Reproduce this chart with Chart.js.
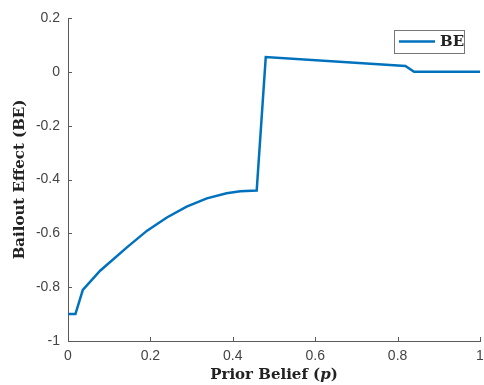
<!DOCTYPE html>
<html>
<head>
<meta charset="utf-8">
<script src="https://cdn.jsdelivr.net/npm/chart.js@4.4.1/dist/chart.umd.min.js"></script>
<style>
  html, body { margin: 0; padding: 0; background: #fff; }
  #c { display: block; }
</style>
</head>
<body>
<canvas id="c" width="484" height="385"></canvas>
<script>
// ---- data ----
const seriesLabel = 'BE';
const priorBelief = [0, 0.018, 0.036, 0.078, 0.143, 0.192, 0.24, 0.288, 0.337, 0.385, 0.418, 0.458, 0.480, 0.819, 0.84, 1.0];
const bailoutEffect = [-0.9, -0.9, -0.81, -0.739, -0.652, -0.59, -0.541, -0.501, -0.47, -0.451, -0.444, -0.441, 0.055, 0.022, 0, 0];
const xTickValues = [0, 0.2, 0.4, 0.6, 0.8, 1];
const yTickValues = [-1, -0.8, -0.6, -0.4, -0.2, 0, 0.2];
const xTitleParts = ['Prior Belief (', 'p', ')'];
const yTitle = 'Bailout Effect (BE)';

const lineColor = '#0072BD';
const axisColor = '#5a5a5a';
const tickColor = '#444';
const serifBold = 'bold 15px "DejaVu Serif"';

const points = priorBelief.map((x, i) => ({ x: x, y: bailoutEffect[i] }));

const fmt = v => String(Math.round(v * 10) / 10);

const innerTicks = {
  id: 'innerTicks',
  afterDraw(chart) {
    const ctx = chart.ctx, a = chart.chartArea;
    const xs = chart.scales.x, ys = chart.scales.y;
    ctx.save();
    ctx.strokeStyle = axisColor;
    ctx.lineWidth = 1;
    ctx.beginPath();
    xTickValues.forEach(v => {
      const px = Math.round(xs.getPixelForValue(v)) + 0.5;
      ctx.moveTo(px, a.bottom); ctx.lineTo(px, a.bottom - 4);
    });
    yTickValues.forEach(v => {
      const py = Math.round(ys.getPixelForValue(v)) + 0.5;
      ctx.moveTo(a.left, py); ctx.lineTo(a.left + 4, py);
    });
    ctx.stroke();

    // x-axis title with italic p
    ctx.fillStyle = '#222';
    ctx.textBaseline = 'middle';
    const fonts = [serifBold, 'italic bold 15px "DejaVu Serif"', serifBold];
    let widths = xTitleParts.map((t, i) => { ctx.font = fonts[i]; return ctx.measureText(t).width; });
    const total = widths.reduce((s, w) => s + w, 0);
    let x = (a.left + a.right) / 2 - total / 2;
    const y = 375;
    xTitleParts.forEach((t, i) => {
      ctx.font = fonts[i];
      ctx.textAlign = 'left';
      ctx.fillText(t, x, y);
      x += widths[i];
    });

    // legend box
    const bx = 394, by = 30, bw = 70, bh = 23;
    ctx.fillStyle = '#fff';
    ctx.fillRect(bx, by, bw, bh);
    ctx.strokeStyle = '#777';
    ctx.lineWidth = 1;
    ctx.strokeRect(bx + 0.5, by + 0.5, bw, bh);
    ctx.strokeStyle = lineColor;
    ctx.lineWidth = 2.5;
    ctx.beginPath();
    ctx.moveTo(399, by + 11.5); ctx.lineTo(435, by + 11.5);
    ctx.stroke();
    ctx.fillStyle = '#222';
    ctx.font = serifBold;
    ctx.textAlign = 'left';
    ctx.fillText(chart.data.datasets[0].label, 440, by + 12);
    ctx.restore();
  }
};

new Chart(document.getElementById('c'), {
  type: 'scatter',
  data: {
    datasets: [{
      label: seriesLabel,
      data: points,
      showLine: true,
      borderColor: lineColor,
      backgroundColor: lineColor,
      borderWidth: 2.5,
      pointRadius: 0,
      tension: 0
    }]
  },
  options: {
    responsive: false,
    devicePixelRatio: 1,
    animation: false,
    layout: { padding: { top: 18, right: 4, left: 0, bottom: 0 } },
    plugins: { legend: { display: false }, tooltip: { enabled: false } },
    scales: {
      x: {
        type: 'linear',
        min: 0, max: 1,
        afterFit: s => { s.height = 44; s.paddingLeft = 0; s.paddingRight = 0; },
        afterBuildTicks: s => { s.ticks = xTickValues.map(v => ({ value: v })); },
        grid: { display: false, drawTicks: false },
        border: { display: true, color: axisColor, width: 1 },
        ticks: { color: tickColor, padding: 7, maxRotation: 0, font: { family: '"Liberation Sans", Arial, sans-serif', size: 14 }, callback: v => fmt(v) },
        title: { display: false }
      },
      y: {
        type: 'linear',
        min: -1, max: 0.2,
        afterFit: s => { s.width = 68; s.paddingTop = 0; s.paddingBottom = 0; },
        afterBuildTicks: s => { s.ticks = yTickValues.map(v => ({ value: v })); },
        grid: { display: false, drawTicks: false },
        border: { display: true, color: axisColor, width: 1 },
        ticks: { color: tickColor, padding: 8, font: { family: '"Liberation Sans", Arial, sans-serif', size: 14 }, callback: v => fmt(v) },
        title: { display: true, text: yTitle, color: '#222', font: { family: '"DejaVu Serif"', size: 15, weight: 'bold' }, padding: { top: 11, bottom: 0 } }
      }
    }
  },
  plugins: [innerTicks]
});
</script>
</body>
</html>
